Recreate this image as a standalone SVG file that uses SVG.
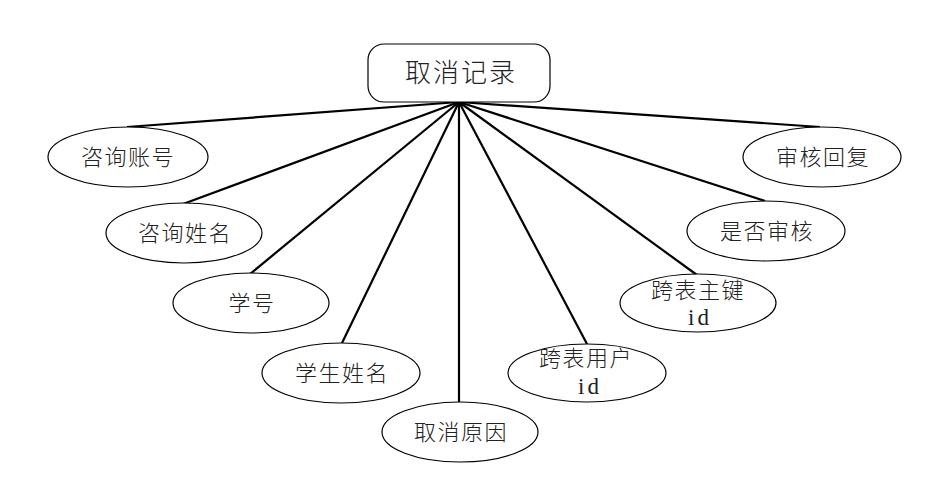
<svg xmlns="http://www.w3.org/2000/svg" width="941" height="488" viewBox="0 0 941 488">
<style>
.bg{fill:#fff}
.n{fill:#fff;stroke:#000;stroke-width:1.2}
.t{font-family:"Noto Sans CJK SC","Liberation Serif",serif;font-size:22px;font-weight:300;letter-spacing:1.5px;fill:#222;text-anchor:middle}
.m{font-family:"Liberation Serif",serif;font-size:23px;letter-spacing:3px;fill:#222;text-anchor:middle}
.c line{stroke:#000;stroke-width:2.2}
</style>
<rect class="bg" width="941" height="488"/>
<g id="connectors" class="c">
<line x1="459" y1="102" x2="127" y2="127"/>
<line x1="459" y1="102" x2="183" y2="204"/>
<line x1="459" y1="102" x2="250" y2="274"/>
<line x1="459" y1="102" x2="342" y2="343"/>
<line x1="459" y1="102" x2="459" y2="402"/>
<line x1="459" y1="102" x2="587" y2="344"/>
<line x1="459" y1="102" x2="697" y2="275"/>
<line x1="459" y1="102" x2="765" y2="201"/>
<line x1="459" y1="102" x2="820" y2="127"/>
</g>
<g id="n-main"><rect class="n" x="368" y="44" width="182" height="58" rx="16"/><text class="t" x="461" y="82" style="font-size:26px;letter-spacing:2px">取消记录</text></g>
<g id="n1"><ellipse class="n" cx="128" cy="157" rx="80" ry="30"/><text class="t" x="128" y="165">咨询账号</text></g>
<g id="n2"><ellipse class="n" cx="184" cy="233" rx="78" ry="30"/><text class="t" x="185" y="241">咨询姓名</text></g>
<g id="n3"><ellipse class="n" cx="251" cy="303" rx="78" ry="30"/><text class="t" x="252" y="311">学号</text></g>
<g id="n4"><ellipse class="n" cx="341" cy="373" rx="79" ry="30"/><text class="t" x="342" y="381">学生姓名</text></g>
<g id="n5"><ellipse class="n" cx="460" cy="432" rx="78" ry="30"/><text class="t" x="461" y="440">取消原因</text></g>
<g id="n6"><ellipse class="n" cx="587" cy="373" rx="79" ry="29"/><text class="t" x="586" y="366">跨表用户</text><text class="m" x="590" y="394">id</text></g>
<g id="n7"><ellipse class="n" cx="698" cy="303" rx="78" ry="29"/><text class="t" x="698" y="298">跨表主键</text><text class="m" x="700" y="325">id</text></g>
<g id="n8"><ellipse class="n" cx="766" cy="231" rx="79" ry="30"/><text class="t" x="767" y="239">是否审核</text></g>
<g id="n9"><ellipse class="n" cx="822" cy="157" rx="79" ry="30"/><text class="t" x="823" y="165">审核回复</text></g>
</svg>
